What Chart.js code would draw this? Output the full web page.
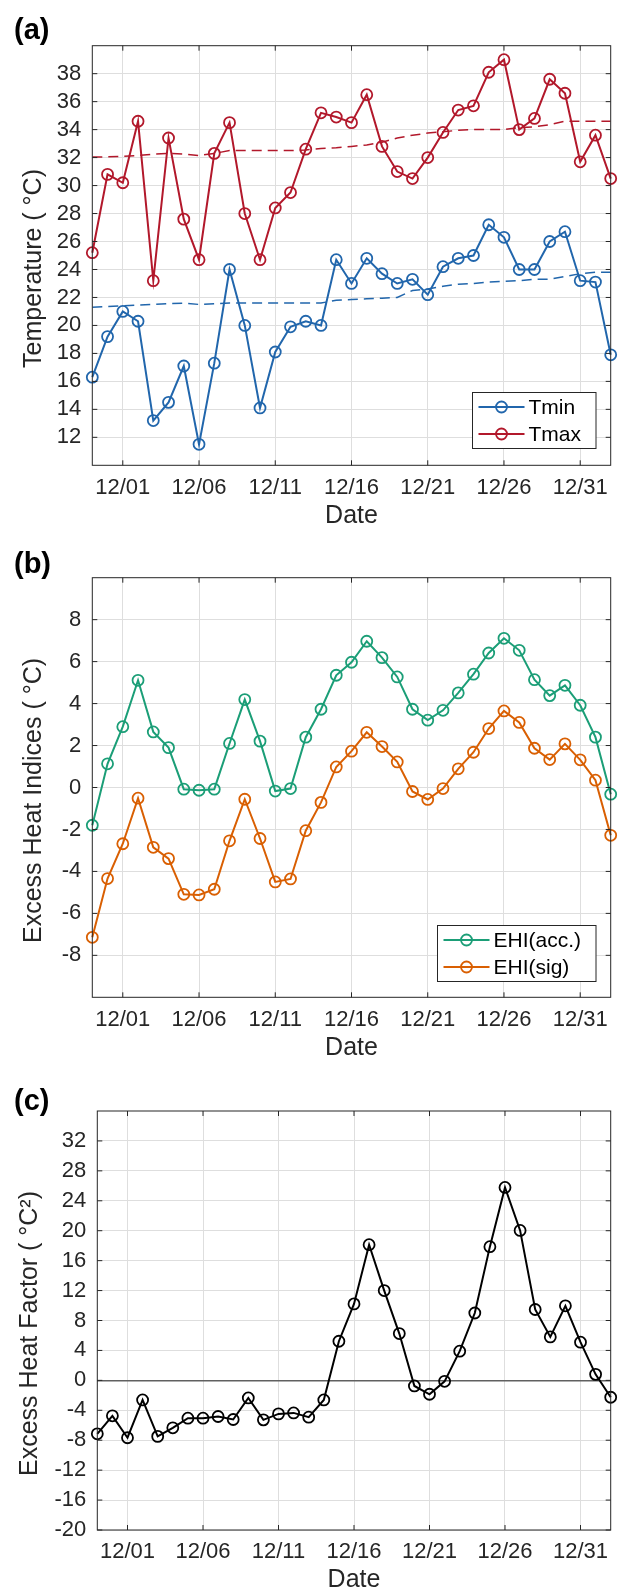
<!DOCTYPE html>
<html>
<head>
<meta charset="utf-8">
<script src="https://cdn.jsdelivr.net/npm/chart.js@4.4.1/dist/chart.umd.min.js"></script>
<style>
    body { margin: 0; background: #fff; }
    #wrap { position: relative; width: 618px; height: 1594px; }
    canvas { position: absolute; left: 0; }
</style>
</head>
<body>
<div id="wrap">
    <canvas id="tempChart" width="618" height="530" style="top:0px"></canvas>
    <canvas id="ehiChart" width="618" height="532" style="top:530px"></canvas>
    <canvas id="ehfChart" width="618" height="532" style="top:1062px"></canvas>
</div>
<script>
// dates 11/29 .. 01/02
const dates = ['11/29', '11/30',
    '12/01', '12/02', '12/03', '12/04', '12/05', '12/06', '12/07', '12/08', '12/09', '12/10',
    '12/11', '12/12', '12/13', '12/14', '12/15', '12/16', '12/17', '12/18', '12/19', '12/20',
    '12/21', '12/22', '12/23', '12/24', '12/25', '12/26', '12/27', '12/28', '12/29', '12/30',
    '12/31', '01/01', '01/02'];
const dateTicks = [2, 7, 12, 17, 22, 27, 32]; // 12/01, 12/06 ... 12/31

// (a) temperature
const tmin = [16.3, 19.2, 21.0, 20.3, 13.2, 14.5, 17.1, 11.5, 17.3, 24.0, 20.0, 14.1, 18.1, 19.9, 20.3, 20.0,
    24.7, 23.0, 24.8, 23.7, 23.0, 23.3, 22.2, 24.2, 24.8, 25.0, 27.2, 26.3, 24.0, 24.0, 26.0, 26.7, 23.2, 23.1, 17.9];
const tmax = [25.2, 30.8, 30.2, 34.6, 23.2, 33.4, 27.6, 24.7, 32.3, 34.5, 28.0, 24.7, 28.4, 29.5, 32.6, 35.2,
    34.9, 34.5, 36.5, 32.8, 31.0, 30.5, 32.0, 33.8, 35.4, 35.7, 38.1, 39.0, 34.0, 34.8, 37.6, 36.6, 31.7, 33.6, 30.5];
const tminClim = [21.3, 21.35, 21.4, 21.45, 21.5, 21.55, 21.6, 21.5, 21.55, 21.6, 21.6, 21.6, 21.6, 21.6, 21.6, 21.6,
    21.8, 21.85, 21.9, 21.95, 22.0, 22.5, 22.6, 22.8, 22.95, 23.0, 23.1, 23.15, 23.2, 23.3, 23.3, 23.5, 23.7, 23.8, 23.8];
const tmaxClim = [32.05, 32.05, 32.1, 32.15, 32.25, 32.3, 32.25, 32.15, 32.3, 32.5, 32.5, 32.5, 32.5, 32.5, 32.55, 32.65,
    32.7, 32.8, 32.9, 33.1, 33.4, 33.6, 33.75, 33.85, 33.95, 34.0, 34.0, 34.0, 34.15, 34.2, 34.35, 34.6, 34.6, 34.6, 34.6];

// (b) excess heat indices
const ehiAcc = [-1.8, 1.13, 2.9, 5.11, 2.65, 1.9, -0.08, -0.13, -0.08, 2.1, 4.19, 2.21, -0.17, -0.05, 2.4, 3.73,
    5.35, 5.97, 6.97, 6.19, 5.27, 3.73, 3.21, 3.68, 4.51, 5.4, 6.41, 7.11, 6.54, 5.14, 4.38, 4.87, 3.92, 2.4, -0.32];
const ehiSig = [-7.14, -4.34, -2.68, -0.51, -2.85, -3.39, -5.09, -5.12, -4.85, -2.54, -0.56, -2.43, -4.5, -4.36, -2.06, -0.71,
    0.98, 1.73, 2.63, 1.95, 1.22, -0.19, -0.57, -0.05, 0.89, 1.68, 2.81, 3.65, 3.1, 1.87, 1.33, 2.08, 1.32, 0.35, -2.28];

// (c) excess heat factor
const ehf = [-7.14, -4.74, -7.67, -2.62, -7.49, -6.34, -5.06, -5.06, -4.83, -5.23, -2.35, -5.28, -4.48, -4.35, -4.92, -2.62,
    5.23, 10.22, 18.13, 12.0, 6.25, -0.75, -1.86, -0.13, 3.9, 9.0, 17.87, 25.78, 20.04, 9.47, 5.81, 9.96, 5.1, 0.8, -2.26];

const FONT = '"Liberation Sans", Arial, Helvetica, sans-serif';
const INK = '#262626';
const GRID = '#dedede';
Chart.defaults.font.family = FONT;
Chart.defaults.color = INK;

// box round the plot + inward tick marks, like matlab "box on"
const axesBox = {
    id: 'axesBox',
    afterDatasetsDraw(chart) {
        const { ctx, chartArea: ca, scales } = chart;
        const len = 5;
        ctx.save();
        ctx.strokeStyle = INK;
        ctx.lineWidth = 1;
        ctx.beginPath();
        scales.x.ticks.forEach(t => {
            const px = scales.x.getPixelForValue(t.value);
            ctx.moveTo(px, ca.bottom); ctx.lineTo(px, ca.bottom - len);
            ctx.moveTo(px, ca.top); ctx.lineTo(px, ca.top + len);
        });
        scales.y.ticks.forEach(t => {
            const py = scales.y.getPixelForValue(t.value);
            ctx.moveTo(ca.left, py); ctx.lineTo(ca.left + len, py);
            ctx.moveTo(ca.right, py); ctx.lineTo(ca.right - len, py);
        });
        ctx.stroke();
        ctx.strokeRect(ca.left, ca.top, ca.right - ca.left, ca.bottom - ca.top);
        ctx.restore();
    }
};

// legend drawn inside the plot, lower right
const boxLegend = {
    id: 'boxLegend',
    afterDraw(chart, args, opts) {
        const items = chart.data.datasets.filter(d => d.inLegend);
        if (!items.length) return;
        const { ctx, chartArea: ca } = chart;
        const lineLen = 46, rowH = 27;
        ctx.save();
        ctx.font = '21px ' + FONT;
        const textW = Math.max(...items.map(d => ctx.measureText(d.label).width));
        const w = 6 + lineLen + 4 + textW + 15;
        const h = items.length * rowH + 2;
        const x0 = Math.round(ca.right - opts.right - w) + 0.5;
        const y0 = Math.round(ca.bottom - opts.bottom - h) + 0.5;
        ctx.fillStyle = '#fff';
        ctx.fillRect(x0, y0, w, h);
        ctx.strokeStyle = INK;
        ctx.lineWidth = 1;
        ctx.strokeRect(x0, y0, w, h);
        items.forEach((d, i) => {
            const cy = y0 + 14.5 + i * rowH;
            ctx.strokeStyle = d.borderColor;
            ctx.lineWidth = 2;
            ctx.beginPath();
            ctx.moveTo(x0 + 6, cy); ctx.lineTo(x0 + 6 + lineLen, cy);
            ctx.stroke();
            ctx.lineWidth = 1.8;
            ctx.beginPath();
            ctx.arc(x0 + 6 + lineLen / 2, cy, 5.5, 0, Math.PI * 2);
            ctx.stroke();
            ctx.fillStyle = '#000';
            ctx.textBaseline = 'middle';
            ctx.fillText(d.label, x0 + 6 + lineLen + 4, cy + 1);
        });
        ctx.restore();
    }
};

// (a) (b) (c) and the rotated y label (sits a bit below centre, as in matlab)
const panelText = {
    id: 'panelText',
    afterDraw(chart, args, opts) {
        const { ctx, chartArea: ca } = chart;
        ctx.save();
        ctx.font = 'bold 29px ' + FONT;
        ctx.fillStyle = '#000';
        ctx.textBaseline = 'middle';
        ctx.fillText(opts.label, 14, opts.labelY);

        ctx.font = '25px ' + FONT;
        ctx.fillStyle = INK;
        ctx.textAlign = 'center';
        ctx.translate(opts.titleX, (ca.top + ca.bottom) / 2 + opts.shift);
        ctx.rotate(-Math.PI / 2);
        ctx.fillText(opts.yTitle, 0, 0);
        ctx.restore();
    }
};

function toXY(arr) {
    return arr.map((v, i) => ({ x: i, y: v }));
}

function markerLine(label, values, color) {
    return {
        label: label,
        data: toXY(values),
        borderColor: color,
        borderWidth: 2,
        pointRadius: 5.5,
        pointBorderWidth: 1.8,
        pointBorderColor: color,
        pointBackgroundColor: 'rgba(0,0,0,0)',
        tension: 0,
        clip: false,
        inLegend: true
    };
}

function dashedLine(label, values, color) {
    return {
        label: label,
        data: toXY(values),
        borderColor: color,
        borderWidth: 1.5,
        borderDash: [10, 6],
        pointRadius: 0,
        tension: 0,
        inLegend: false
    };
}

function makeOptions(p) {
    return {
        responsive: false,
        animation: false,
        devicePixelRatio: 1,
        events: [],
        layout: { padding: { top: p.top, right: 6.3, bottom: 0, left: 0 } },
        plugins: {
            legend: { display: false },
            tooltip: { enabled: false },
            panelText: { label: p.label, labelY: p.labelY, yTitle: p.yTitle, titleX: p.titleX, shift: 13 },
            boxLegend: { right: 15, bottom: p.legendBottom }
        },
        scales: {
            x: {
                type: 'linear',
                min: 0,
                max: dates.length - 1,
                afterBuildTicks: s => { s.ticks = dateTicks.map(v => ({ value: v })); },
                afterFit: s => { s.height = p.xHeight; },
                border: { display: false },
                grid: { color: GRID, lineWidth: 1, drawTicks: false },
                ticks: {
                    callback: v => dates[v],
                    autoSkip: false,
                    maxRotation: 0,
                    padding: 9,
                    color: INK,
                    font: { size: 22 }
                },
                title: {
                    display: true,
                    text: 'Date',
                    color: INK,
                    font: { size: 25, lineHeight: 1 },
                    padding: { top: 0, bottom: 1 }
                }
            },
            y: {
                min: p.yMin,
                max: p.yMax,
                afterFit: s => { s.width = p.left; },
                border: { display: false },
                grid: {
                    drawTicks: false,
                    color: ctx => (p.zeroLine && ctx.tick && ctx.tick.value === 0) ? '#606060' : GRID,
                    lineWidth: ctx => (p.zeroLine && ctx.tick && ctx.tick.value === 0) ? 1.6 : 1
                },
                ticks: {
                    stepSize: p.step,
                    padding: 11,
                    color: INK,
                    font: { size: 22 },
                    callback: v => p.hide.includes(v) ? null : v
                },
                title: { display: false }
            }
        }
    };
}

const plugins = [axesBox, boxLegend, panelText];

new Chart(document.getElementById('tempChart'), {
    type: 'line',
    data: {
        datasets: [
            markerLine('Tmin', tmin, '#2166ac'),
            markerLine('Tmax', tmax, '#b2182b'),
            dashedLine('Tmin clim', tminClim, '#2166ac'),
            dashedLine('Tmax clim', tmaxClim, '#b2182b')
        ]
    },
    options: makeOptions({
        top: 45.7, left: 92.3, xHeight: 64.7, label: '(a)', labelY: 31, legendBottom: 17,
        yMin: 10, yMax: 40, step: 2, hide: [10, 40],
        yTitle: 'Temperature ( °C)', titleX: 34
    }),
    plugins: plugins
});

new Chart(document.getElementById('ehiChart'), {
    type: 'line',
    data: {
        datasets: [
            markerLine('EHI(acc.)', ehiAcc, '#1b9e77'),
            markerLine('EHI(sig)', ehiSig, '#d95f02')
        ]
    },
    options: makeOptions({
        top: 47.7, left: 92.3, xHeight: 64.7, label: '(b)', labelY: 35, legendBottom: 16,
        yMin: -10, yMax: 10, step: 2, hide: [-10, 10],
        yTitle: 'Excess Heat Indices ( °C)', titleX: 34
    }),
    plugins: plugins
});

const ehfSet = markerLine('EHF', ehf, '#000000');
ehfSet.inLegend = false;
new Chart(document.getElementById('ehfChart'), {
    type: 'line',
    data: { datasets: [ehfSet] },
    options: makeOptions({
        top: 49, left: 97.3, xHeight: 64, label: '(c)', labelY: 40, legendBottom: 16,
        yMin: -20, yMax: 36, step: 4, hide: [36], zeroLine: true,
        yTitle: 'Excess Heat Factor ( °C²)', titleX: 30
    }),
    plugins: plugins
});
</script>
</body>
</html>
